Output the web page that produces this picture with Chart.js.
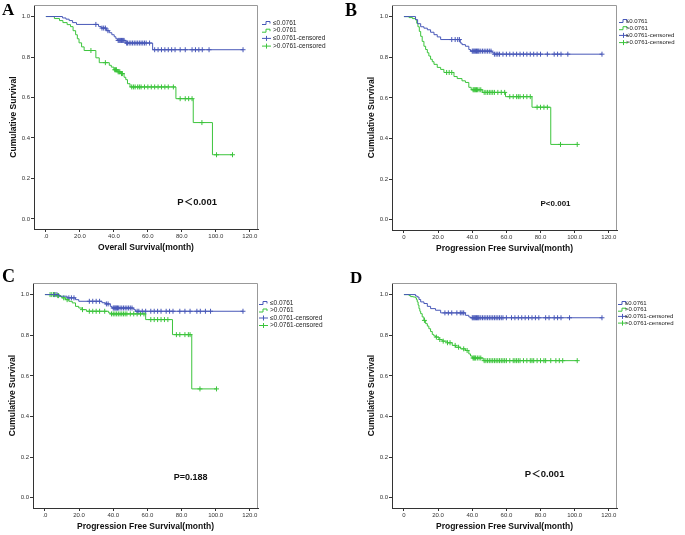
<!DOCTYPE html>
<html>
<head>
<meta charset="utf-8">
<script src="https://cdn.jsdelivr.net/npm/chart.js@4.4.1/dist/chart.umd.min.js"></script>
<style>
  body { margin: 0; background: #fff; width: 685px; height: 535px; position: relative; overflow: hidden; }
  canvas { position: absolute; }
  .tag { position: absolute; font: bold 17px "Liberation Serif", "Times New Roman", serif; line-height: 17px; color: #000; }
</style>
</head>
<body>
<canvas id="chartA" width="340" height="260" style="left:0;top:0"></canvas>
<canvas id="chartB" width="345" height="260" style="left:340px;top:0"></canvas>
<canvas id="chartC" width="340" height="275" style="left:0;top:260px"></canvas>
<canvas id="chartD" width="345" height="275" style="left:340px;top:260px"></canvas>
<div class="tag" style="left:2px;top:1px">A</div>
<div class="tag" style="left:345px;top:2px;font-size:18px">B</div>
<div class="tag" style="left:2px;top:268px;font-size:18px">C</div>
<div class="tag" style="left:350px;top:269px">D</div>
<script>
// tick labels
const xTicks = [0, 20, 40, 60, 80, 100, 120];
const yTicks = [0, 0.2, 0.4, 0.6, 0.8, 1.0];
const legendLabels = ['≤0.0761', '>0.0761', '≤0.0761-censored', '>0.0761-censored'];

// A - overall survival
const aLowTime = [0, 9.8, 11.8, 13.7, 15.7, 18, 31, 32.5, 35.7, 37.3, 38.8, 40.2, 41.2, 42.2, 46.7, 62.8];
const aLowSurv = [1, 0.993, 0.987, 0.98, 0.97, 0.961, 0.951, 0.943, 0.93, 0.92, 0.91, 0.90, 0.89, 0.882, 0.869, 0.836];
const aLowCens = [29.4, 33, 34, 35, 36.5, 42.5, 43, 43.5, 44, 44.5, 45, 45.5, 46, 47.5, 48, 49, 50, 51, 52, 53, 54, 55, 56, 57, 58, 59, 61, 64, 66, 68, 70, 72, 74, 76, 79, 82, 86, 88, 90, 92, 96, 116];
const aHighTime = [0, 5, 8, 10, 12.5, 14.5, 16, 17.5, 18.5, 19.5, 21, 22.5, 29.4, 31.4, 37.3, 38.5, 40, 42, 44, 46, 47, 48, 49.5, 76.5, 86.7, 98];
const aHighSurv = [1, 0.99, 0.98, 0.97, 0.96, 0.95, 0.93, 0.91, 0.89, 0.87, 0.85, 0.832, 0.796, 0.772, 0.759, 0.75, 0.737, 0.727, 0.718, 0.70, 0.688, 0.668, 0.652, 0.594, 0.476, 0.317];
const aHighCens = [26.5, 35, 40.5, 41, 41.5, 42.5, 43, 43.5, 44.5, 45, 50.5, 51.5, 52.5, 54, 55, 56, 58, 60, 62, 64, 66, 68, 70, 72, 75, 79, 82, 84, 86, 91.8, 100.4, 109.8];

// B - progression free survival
const bLowTime = [0, 6.8, 8, 9.8, 11.7, 13.7, 15.6, 17.6, 19.5, 21.5, 33, 34, 36, 38, 39, 51.7, 52.7];
const bLowSurv = [1, 0.985, 0.965, 0.95, 0.943, 0.935, 0.923, 0.911, 0.9, 0.887, 0.87, 0.862, 0.854, 0.838, 0.83, 0.822, 0.815];
const bLowCens = [28, 30, 31.5, 32.5, 40, 40.5, 41, 41.5, 42, 42.5, 43, 43.5, 44, 45, 46, 47, 48, 49, 50, 51, 53, 54, 55, 56, 58, 60, 62, 64, 66, 68, 70, 72, 74, 76, 78, 80, 84, 88, 90, 92, 96, 116];
const bHighTime = [0, 3, 5, 6.8, 7.5, 8.2, 9, 9.8, 10.7, 11.7, 12.7, 13.7, 14.6, 15.6, 16.6, 17.6, 19.5, 21.5, 23.4, 29.3, 31.2, 34, 36, 38, 39.4, 45.9, 59.5, 75, 86];
const bHighSurv = [1, 0.995, 0.99, 0.984, 0.967, 0.95, 0.927, 0.903, 0.878, 0.854, 0.838, 0.822, 0.806, 0.79, 0.778, 0.765, 0.75, 0.74, 0.725, 0.705, 0.695, 0.684, 0.676, 0.652, 0.64, 0.627, 0.606, 0.554, 0.371];
const bHighCens = [25, 26.5, 28, 40.5, 41, 41.5, 42, 42.5, 43, 44, 45, 47, 48, 49, 50, 51, 52, 53, 55, 57, 59, 62, 64, 66, 67, 68, 70, 72, 74, 78, 80, 82, 84, 91.7, 101.5];

// C - progression free survival
const cLowTime = [0, 8.2, 13, 17.9, 19.8, 33.4, 35.4, 38.3, 39.3, 52, 53];
const cLowSurv = [1, 0.992, 0.984, 0.975, 0.967, 0.96, 0.954, 0.942, 0.934, 0.926, 0.918];
const cLowCens = [5.5, 7, 14, 15.5, 17, 26, 28, 30, 32, 36, 37, 40, 40.5, 41, 41.5, 42, 42.5, 43, 44, 45, 46, 47, 48, 49, 50, 51, 54, 55, 57, 59, 62, 64, 66, 68, 71, 73, 75, 79, 82, 85, 89, 91, 94, 97, 116];
const cHighTime = [0, 6.2, 9, 10, 12, 14, 16, 17.9, 19.8, 21.8, 24.3, 37.3, 38.3, 59, 74.7, 86];
const cHighSurv = [1, 0.995, 0.99, 0.984, 0.975, 0.967, 0.959, 0.942, 0.934, 0.926, 0.918, 0.91, 0.905, 0.877, 0.803, 0.536];
const cHighCens = [3, 4, 5, 6, 7.5, 8, 11, 13, 22, 26, 28, 30, 32, 35, 39, 40, 41, 42, 43, 44, 45, 46, 47, 48, 50, 52, 54, 56, 58, 62, 64, 66, 68, 70, 72, 77, 79, 82, 84, 85, 90.8, 100.5];

// D - progression free survival
const dLowTime = [0, 6.8, 7.8, 8.8, 9.8, 11.7, 13.7, 15.6, 18.5, 21.5, 36, 38, 39];
const dLowSurv = [1, 0.993, 0.988, 0.976, 0.964, 0.956, 0.942, 0.931, 0.923, 0.91, 0.898, 0.89, 0.886];
const dLowCens = [24, 26, 28, 31, 33, 34, 35, 40, 40.5, 41, 41.5, 42, 42.5, 43, 43.5, 44, 45, 46, 47, 48, 49, 50, 51, 52, 53, 54, 55, 56, 57, 58, 60, 63, 65, 67, 69, 71, 73, 75, 77, 79, 83, 85, 88, 90, 92, 97, 116];
const dHighTime = [0, 3, 3.9, 5.5, 6.8, 7.3, 7.8, 8.3, 8.8, 9.3, 9.8, 10.7, 11.7, 12.7, 13.7, 14.6, 15.6, 16.6, 17.5, 18.5, 20.5, 22.4, 25.4, 28.3, 30.2, 33.2, 36, 38, 39, 40, 46.4];
const dHighSurv = [1, 0.995, 0.99, 0.988, 0.984, 0.975, 0.964, 0.948, 0.931, 0.918, 0.906, 0.89, 0.873, 0.857, 0.845, 0.832, 0.818, 0.804, 0.797, 0.791, 0.779, 0.771, 0.763, 0.75, 0.741, 0.733, 0.725, 0.708, 0.698, 0.688, 0.675];
const dHighCens = [12, 19, 21, 23, 25.5, 27, 30, 32, 35, 37, 40.5, 41, 41.5, 42, 43, 44, 45, 47, 48, 49, 50, 51, 52, 53, 54, 55, 56, 57, 58, 59, 60, 62, 64, 65, 66, 67, 68, 70, 72, 74, 75, 76, 78, 80, 82, 83, 86, 89, 91, 93, 101.5];

const LOW_COLOR = '#4858b8';
const HIGH_COLOR = '#3cc43c';
const SANS = '"Liberation Sans", Arial, sans-serif';

// survival level of the step curve at time t
function survivalAt(times, surv, t) {
    let s = surv[0];
    for (let i = 0; i < times.length; i++) {
        if (times[i] <= t) s = surv[i];
    }
    return s;
}

// step curve runs on to the last censored case
function curvePoints(times, surv, cens) {
    const pts = times.map((t, i) => ({ x: t, y: surv[i] }));
    const lastT = Math.max(...cens);
    if (lastT > times[times.length - 1]) pts.push({ x: lastT, y: surv[surv.length - 1] });
    return pts;
}

function censorPoints(times, surv, cens) {
    return cens.map(t => ({ x: t, y: survivalAt(times, surv, t) }));
}

// frame, legend and p-value text
const panelDecor = {
    id: 'panelDecor',
    afterDraw(chart, args, opts) {
        const { ctx, chartArea: a, scales } = chart;
        ctx.save();
        ctx.strokeStyle = '#999';
        ctx.lineWidth = 1;
        ctx.beginPath();
        ctx.moveTo(a.left, a.top + 0.5);
        ctx.lineTo(a.right - 0.5, a.top + 0.5);
        ctx.lineTo(a.right - 0.5, a.bottom);
        ctx.stroke();

        ctx.fillStyle = '#111';
        ctx.font = 'bold ' + opts.pSize + 'px ' + SANS + ', "Noto Sans CJK SC"';
        ctx.textAlign = 'center';
        ctx.textBaseline = 'middle';
        ctx.fillText(opts.pText, scales.x.getPixelForValue(opts.pX), scales.y.getPixelForValue(opts.pY));

        ctx.font = opts.legendSize + 'px ' + SANS;
        ctx.textAlign = 'left';
        const colors = [LOW_COLOR, HIGH_COLOR, LOW_COLOR, HIGH_COLOR];
        legendLabels.forEach((label, i) => {
            const x = opts.legendX, y = opts.legendY + i * opts.legendDy;
            ctx.strokeStyle = colors[i];
            ctx.lineWidth = 1;
            ctx.beginPath();
            if (i < 2) {
                ctx.moveTo(x, y + 1.5);
                ctx.lineTo(x + 4, y + 1.5);
                ctx.lineTo(x + 4, y - 1.5);
                ctx.lineTo(x + 8, y - 1.5);
                ctx.lineTo(x + 8, y + 0.5);
            } else {
                ctx.moveTo(x, y);
                ctx.lineTo(x + 9, y);
                ctx.moveTo(x + 4.5, y - 2.5);
                ctx.lineTo(x + 4.5, y + 2.5);
            }
            ctx.stroke();
            ctx.fillStyle = '#222';
            ctx.fillText(label, opts.textX, y);
        });
        ctx.restore();
    }
};

function makePanel(id, p) {
    const canvas = document.getElementById(id);
    const W = canvas.width, H = canvas.height;
    const [boxL, boxT, boxR, boxB] = p.box;
    const titleSize = 8.5, lh = titleSize * 1.2;
    const tickFont = { size: 6, family: SANS };

    new Chart(canvas.getContext('2d'), {
        type: 'scatter',
        data: {
            datasets: [
                { data: curvePoints(p.lowT, p.lowS, p.lowC), showLine: true, stepped: true, borderColor: LOW_COLOR, borderWidth: 1, pointRadius: 0 },
                { data: curvePoints(p.highT, p.highS, p.highC), showLine: true, stepped: true, borderColor: HIGH_COLOR, borderWidth: 1, pointRadius: 0 },
                { data: censorPoints(p.lowT, p.lowS, p.lowC), pointStyle: 'cross', pointRadius: 2.5, borderColor: LOW_COLOR, borderWidth: 1 },
                { data: censorPoints(p.highT, p.highS, p.highC), pointStyle: 'cross', pointRadius: 2.5, borderColor: HIGH_COLOR, borderWidth: 1 }
            ]
        },
        options: {
            responsive: false,
            animation: false,
            events: [],
            layout: { padding: { left: 0, top: boxT, right: W - boxR, bottom: 0 } },
            plugins: {
                legend: { display: false },
                tooltip: { enabled: false },
                panelDecor: p.decor
            },
            scales: {
                x: {
                    type: 'linear', min: -7, max: 124.8,
                    afterFit: s => { s.height = H - boxB; },
                    afterBuildTicks: s => { s.ticks = xTicks.map(v => ({ value: v })); },
                    ticks: { callback: v => v === 0 ? p.zero : v.toFixed(1), font: tickFont, color: '#333', padding: 1, maxRotation: 0, autoSkip: false },
                    grid: { drawOnChartArea: false, tickLength: 3, color: '#333' },
                    border: { display: true, color: '#333' },
                    title: { display: true, text: p.xTitle, color: '#111', font: { size: titleSize, weight: 'bold', family: SANS }, padding: { top: 0, bottom: H - boxB - 19 - lh / 2 } }
                },
                y: {
                    type: 'linear', min: -0.05, max: 1.057,
                    afterFit: s => { s.width = boxL; },
                    afterBuildTicks: s => { s.ticks = yTicks.map(v => ({ value: v })); },
                    ticks: { callback: v => v.toFixed(1), font: tickFont, color: '#333', padding: 1, autoSkip: false },
                    grid: { drawOnChartArea: false, tickLength: 3, color: '#333' },
                    border: { display: true, color: '#333' },
                    title: { display: true, text: 'Cumulative Survival', color: '#111', font: { size: titleSize, weight: 'bold', family: SANS }, padding: { top: boxL - 20.5 - lh / 2, bottom: 0 } }
                }
            }
        },
        plugins: [panelDecor]
    });
}

makePanel('chartA', {
    box: [34, 4, 258, 229], zero: '.0', xTitle: 'Overall Survival(month)',
    lowT: aLowTime, lowS: aLowSurv, lowC: aLowCens, highT: aHighTime, highS: aHighSurv, highC: aHighCens,
    decor: { pText: 'P＜0.001', pX: 89, pY: 0.08, pSize: 9.5, legendX: 262, textX: 273, legendY: 23, legendDy: 7.7, legendSize: 6.5 }
});
makePanel('chartB', {
    box: [52, 2, 277, 230], zero: '0', xTitle: 'Progression Free Survival(month)',
    lowT: bLowTime, lowS: bLowSurv, lowC: bLowCens, highT: bHighTime, highS: bHighSurv, highC: bHighCens,
    decor: { pText: 'P<0.001', pX: 88.8, pY: 0.081, pSize: 8, legendX: 279, textX: 286, legendY: 21, legendDy: 7.2, legendSize: 6 }
});
makePanel('chartC', {
    box: [33, 23, 258, 248], zero: '.0', xTitle: 'Progression Free Survival(month)',
    lowT: cLowTime, lowS: cLowSurv, lowC: cLowCens, highT: cHighTime, highS: cHighSurv, highC: cHighCens,
    decor: { pText: 'P=0.188', pX: 85.4, pY: 0.1, pSize: 9, legendX: 259, textX: 270, legendY: 43, legendDy: 7.5, legendSize: 6.5 }
});
makePanel('chartD', {
    box: [52, 23, 277, 248], zero: '0', xTitle: 'Progression Free Survival(month)',
    lowT: dLowTime, lowS: dLowSurv, lowC: dLowCens, highT: dHighTime, highS: dHighSurv, highC: dHighCens,
    decor: { pText: 'P＜0.001', pX: 82.4, pY: 0.117, pSize: 9.5, legendX: 278, textX: 285, legendY: 43, legendDy: 6.7, legendSize: 6 }
});
</script>
</body>
</html>
